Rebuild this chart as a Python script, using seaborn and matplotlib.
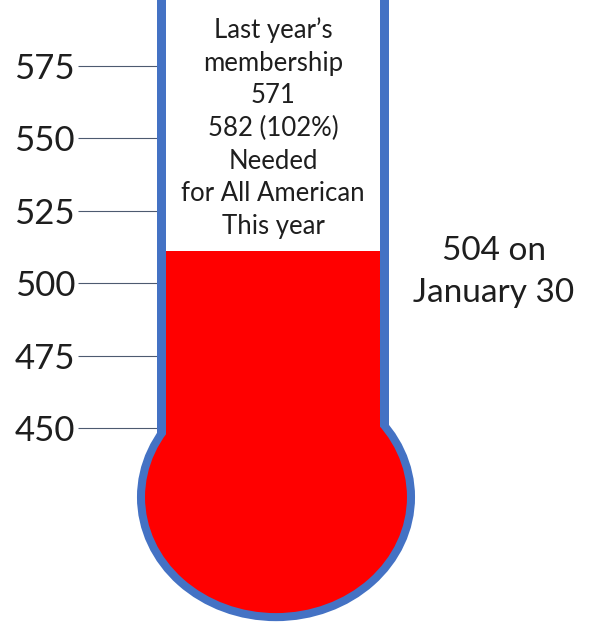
import matplotlib
matplotlib.use("Agg")
import matplotlib.pyplot as plt
import seaborn as sns
from matplotlib.patches import Rectangle, Ellipse

#---------------------------------------------------
#   data
#---------------------------------------------------
tick_values = [450, 475, 500, 525, 550, 575]
fill_level = 511       # top of the red column as drawn
bulb_level = 426.2     # centre of the bulb on the scale
tube_note = ["Last year’s", "membership", "571", "582 (102%)",
             "Needed", "for All American", "This year"]
side_note = ["504 on", "January 30"]

BLUE = "#4472c4"
RED = "#ff0000"
TEXT = "#1e1e1e"

sns.set_style("white")
plt.rcParams["font.family"] = ["Lato", "DejaVu Sans"]

W, H = 590, 623
fig = plt.figure(figsize=(W / 100, H / 100), dpi=100)
ax = fig.add_axes([0, 0, 1, 1])
ylo, yhi = 382.8, 597.6
px_per_unit = H / (yhi - ylo)

# tube geometry in pixels (x axis is in pixels)
tube_left, tube_right, wall = 157, 389, 9
tube_mid = (tube_left + tube_right) / 2
bulb_x = 276
bulb_rx, bulb_ry = 135, 120

# tube: blue outer wall, white inside
ax.add_patch(Rectangle((tube_left, bulb_level), tube_right - tube_left, 300,
                       facecolor=BLUE, edgecolor="none", zorder=1))
ax.add_patch(Rectangle((tube_left + wall, bulb_level), tube_right - tube_left - 2 * wall, 300,
                       facecolor="white", edgecolor="none", zorder=1.5))

# bulb
ax.add_patch(Ellipse((bulb_x, bulb_level), 2 * bulb_rx, 2 * bulb_ry / px_per_unit,
                     facecolor=RED, edgecolor=BLUE, linewidth=5.8, zorder=2))

# red column
sns.barplot(x=[tube_mid], y=[fill_level - bulb_level], bottom=bulb_level,
            native_scale=True, width=tube_right - tube_left - 2 * wall,
            color=RED, saturation=1, errorbar=None, linewidth=0, ax=ax, zorder=3)
ax.set_xlim(0, W)
ax.set_ylim(ylo, yhi)

# scale on the left side of the tube
for s in ax.spines.values():
    s.set_visible(False)
ax.spines["left"].set_position(("data", tube_left))
ax.set_xticks([])
ax.set_yticks(tick_values)
ax.set_yticklabels([str(v) for v in tick_values])
ax.tick_params(axis="y", left=True, direction="out", length=57, width=0.8,
               color="#4d5a70", pad=2, labelsize=25, labelcolor=TEXT)
ax.set_xlabel("")
ax.set_ylabel("")

ax.text(tube_mid / W, 1 - 128 / H, "\n".join(tube_note), transform=ax.transAxes,
        ha="center", va="center", fontsize=18.5, linespacing=1.38, color=TEXT, zorder=5)
ax.text(494 / W, 1 - 272 / H, "\n".join(side_note), transform=ax.transAxes,
        ha="center", va="center", fontsize=24, linespacing=1.5, color=TEXT, zorder=5)

fig.savefig("out.png", dpi=100, facecolor="white")
